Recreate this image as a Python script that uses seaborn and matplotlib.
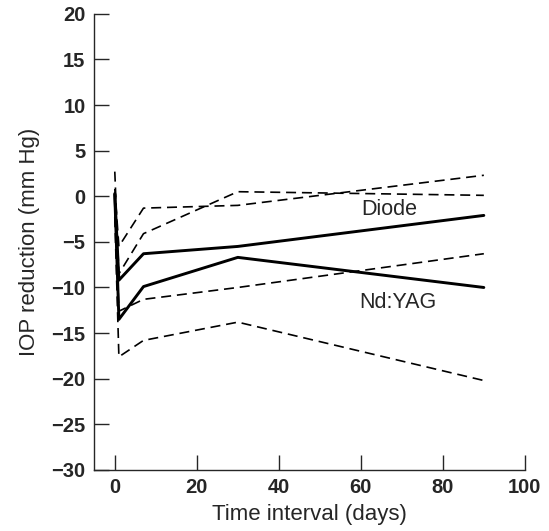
import seaborn as sns
import matplotlib.pyplot as plt

days = [0, 1, 7, 30, 90]
diode_mean = [0.3, -9.2, -6.3, -5.5, -2.1]
diode_upper = [0.8, -5.5, -1.3, -1.0, 2.3]
diode_lower = [-0.2, -12.6, -11.3, -10.0, -6.3]
yag_mean = [0.2, -13.5, -9.9, -6.7, -10.0]
yag_upper = [2.7, -8.5, -4.1, 0.5, 0.1]
yag_lower = [-2.3, -17.6, -15.8, -13.8, -20.2]

sns.set_style('ticks')
plt.rcParams['font.family'] = ['Liberation Sans', 'DejaVu Sans']
plt.rcParams['xtick.direction'] = 'in'
plt.rcParams['ytick.direction'] = 'in'

fig = plt.figure(figsize=(5.49, 5.31), dpi=100)
ax = fig.add_axes([0.171, 0.115, 0.785, 0.859])

for vals in [diode_upper, diode_lower, yag_upper, yag_lower]:
    sns.lineplot(x=days, y=vals, color='black', linestyle=(0, (6, 3.5)),
                 linewidth=1.2, sort=False, ax=ax)
for vals in [diode_mean, yag_mean]:
    sns.lineplot(x=days, y=vals, color='black', linewidth=2.1, sort=False, ax=ax)

ax.text(67, -1.5, 'Diode', fontsize=15.5, ha='center', va='center')
ax.text(69, -11.7, 'Nd:YAG', fontsize=15.5, ha='center', va='center')

ax.set_xlim(-5.1, 100)
ax.set_ylim(-30, 20)
ax.set_xticks(range(0, 101, 20))
ax.set_yticks(range(-30, 21, 5))
ax.set_yticklabels([str(v).replace('-', '\u2212') for v in range(-30, 21, 5)])
ax.tick_params(direction='in', length=11, width=1.0, labelsize=14.5, pad=6)
for lab in ax.get_xticklabels() + ax.get_yticklabels():
    lab.set_fontweight('bold')
sns.despine(ax=ax)
ax.spines['left'].set_linewidth(1.0)
ax.spines['bottom'].set_linewidth(1.0)
ax.set_xlabel('Time interval (days)', fontsize=16, labelpad=5)
ax.set_ylabel('IOP reduction (mm Hg)', fontsize=16, labelpad=8)

fig.savefig('out.png', dpi=100)
